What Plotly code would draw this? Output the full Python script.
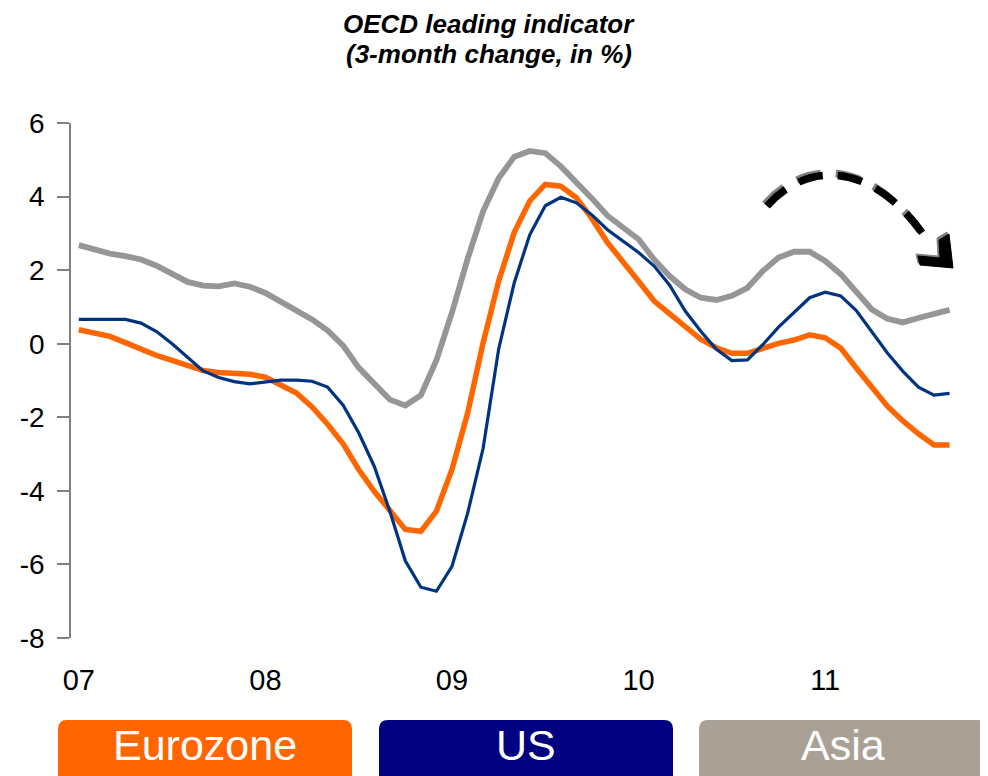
import plotly.graph_objects as go

# ---------------- data ----------------
months = list(range(57))  # Jan 2007 .. Sep 2011, monthly index
year_ticks = [0, 12, 24, 36, 48]
year_labels = ["07", "08", "09", "10", "11"]
year_bounds = [11.5, 23.5, 35.5, 47.5]
y_ticks = [-8, -6, -4, -2, 0, 2, 4, 6]
y_labels = ["-8", "-6", "-4", "-2", "0", "2", "4", "6"]

eurozone = [0.38, 0.28, 0.20, 0.03, -0.15, -0.32, -0.45, -0.59, -0.73, -0.78,
            -0.79, -0.83, -0.91, -1.11, -1.34, -1.72, -2.19, -2.72, -3.42, -4.01,
            -4.55, -5.05, -5.10, -4.55, -3.42, -1.90, 0.02, 1.70, 3.02, 3.88,
            4.33, 4.28, 3.97, 3.40, 2.75, 2.25, 1.70, 1.16, 0.80, 0.44,
            0.12, -0.11, -0.26, -0.26, -0.11, 0.01, 0.10, 0.24, 0.16, -0.12,
            -0.66, -1.20, -1.70, -2.10, -2.45, -2.75, -2.75]
us = [0.66, 0.66, 0.66, 0.66, 0.56, 0.33, 0.00, -0.38, -0.74, -0.92,
      -1.03, -1.09, -1.03, -0.99, -0.99, -1.02, -1.18, -1.67, -2.42, -3.33,
      -4.55, -5.90, -6.62, -6.73, -6.05, -4.62, -2.85, -0.15, 1.65, 2.96,
      3.75, 3.98, 3.83, 3.50, 3.10, 2.79, 2.48, 2.11, 1.59, 0.89,
      0.34, -0.15, -0.46, -0.44, -0.02, 0.45, 0.86, 1.25, 1.40, 1.30,
      0.90, 0.33, -0.25, -0.75, -1.18, -1.40, -1.35]
asia = [2.68, 2.56, 2.45, 2.38, 2.29, 2.12, 1.90, 1.68, 1.58, 1.56,
        1.64, 1.55, 1.38, 1.14, 0.92, 0.66, 0.36, -0.05, -0.65, -1.10,
        -1.52, -1.68, -1.40, -0.45, 0.85, 2.30, 3.60, 4.50, 5.08, 5.24,
        5.18, 4.82, 4.40, 3.95, 3.48, 3.15, 2.84, 2.29, 1.84, 1.48,
        1.25, 1.19, 1.30, 1.52, 1.98, 2.34, 2.50, 2.50, 2.25, 1.89,
        1.40, 0.93, 0.68, 0.58, 0.70, 0.81, 0.92]

series_names = ["Eurozone", "US", "Asia"]
title_lines = ["OECD leading indicator", "(3-month change, in %)"]
line_colors = {"Eurozone": "#FF6600", "US": "#003380", "Asia": "#969696"}
box_colors = {"Eurozone": "#FF6600", "US": "#000080", "Asia": "#A9A196"}

# ---------------- layout geometry ----------------
# page pixels; the page body has an 8px margin, so the figure starts at (8, 8)
OFF = 8
WIDTH, HEIGHT = 988 - OFF, 776 - OFF
PL, PT = 71, 123           # plot area left/top in page pixels
PW, PH = 917, 515
L, T = PL - OFF, PT - OFF
B = HEIGHT - T - PH
R = WIDTH - L - PW
X_RANGE = [-0.5, -0.5 + PW / 15.55]
Y_RANGE = [-8, 6]
FONT = "Liberation Sans, Arial, sans-serif"


def pp(px, py):
    """page pixel -> paper coordinates"""
    return (px - PL) / PW, (PT + PH - py) / PH


fig = go.Figure()
fig.add_trace(go.Scatter(x=months, y=asia, mode="lines", name="Asia",
                         line=dict(color=line_colors["Asia"], width=5.8)))
fig.add_trace(go.Scatter(x=months, y=eurozone, mode="lines", name="Eurozone",
                         line=dict(color=line_colors["Eurozone"], width=5.5)))
fig.add_trace(go.Scatter(x=months, y=us, mode="lines", name="US",
                         line=dict(color=line_colors["US"], width=3.2)))

zero_pos = (0 - Y_RANGE[0]) / (Y_RANGE[1] - Y_RANGE[0])

fig.update_layout(
    width=WIDTH, height=HEIGHT,
    margin=dict(l=L, r=R, t=T, b=B),
    paper_bgcolor="white", plot_bgcolor="white",
    showlegend=False,
    font=dict(family=FONT, color="black"),
    xaxis=dict(range=X_RANGE, tickvals=year_ticks, ticktext=year_labels,
               showgrid=False, zeroline=False, showline=False,
               ticks="outside", ticklen=16, tickcolor="rgba(0,0,0,0)",
               tickfont=dict(size=29, family=FONT, color="black")),
    xaxis2=dict(range=X_RANGE, overlaying="x", anchor="free", position=zero_pos,
                tickvals=year_bounds, showticklabels=False, showgrid=False,
                zeroline=False, showline=True, linecolor="#808080", linewidth=2,
                ticks="outside", ticklen=8, tickwidth=1.5, tickcolor="#333333"),
    yaxis=dict(range=Y_RANGE, tickvals=y_ticks, ticktext=y_labels,
               showgrid=False, zeroline=False,
               showline=True, linecolor="#808080", linewidth=1.5,
               ticks="outside", ticklen=12, tickwidth=1.5, tickcolor="#808080",
               ticklabelstandoff=7,
               tickfont=dict(size=28, family=FONT, color="black")),
)

# ---------------- title (two lines) ----------------
for line_text, ly in zip(title_lines, [24, 54]):
    tx, ty = pp(489, ly)
    fig.add_annotation(text=f"<b><i>{line_text}</i></b>",
                       xref="paper", yref="paper", x=tx, y=ty, xanchor="center",
                       yanchor="middle", showarrow=False,
                       font=dict(size=26, family=FONT, color="black"))

# ---------------- legend boxes (rounded rectangles) ----------------
boxes = [("Eurozone", 58, 352), ("US", 379, 673), ("Asia", 699, 986)]
top, bot, rad = 720, 790, 9
for name, x0, x1 in boxes:
    def P(px, py):
        a, b = pp(px, py)
        return f"{a:.5f},{b:.5f}"
    path = (f"M {P(x0 + rad, top)} L {P(x1 - rad, top)} Q {P(x1, top)} {P(x1, top + rad)} "
            f"L {P(x1, bot - rad)} Q {P(x1, bot)} {P(x1 - rad, bot)} "
            f"L {P(x0 + rad, bot)} Q {P(x0, bot)} {P(x0, bot - rad)} "
            f"L {P(x0, top + rad)} Q {P(x0, top)} {P(x0 + rad, top)} Z")
    fig.add_shape(type="path", path=path, xref="paper", yref="paper",
                  fillcolor=box_colors[name], line=dict(width=0), layer="above")
    cx, cy = pp((x0 + x1) / 2, 745)
    fig.add_annotation(text=name, xref="paper", yref="paper", x=cx, y=cy,
                       xanchor="center", yanchor="middle", showarrow=False,
                       font=dict(size=43, family=FONT, color="white"))

# ---------------- dashed curved arrow ----------------
def curve(dx, dy):
    p = [(767, 206), (808, 160), (875, 160), (930, 244)]
    q = [pp(x + dx, y + dy) for x, y in p]
    return "M {:.5f},{:.5f} C {:.5f},{:.5f} {:.5f},{:.5f} {:.5f},{:.5f}".format(
        *q[0], *q[1], *q[2], *q[3])


def head(dx, dy):
    p = [(939, 240), (949, 234), (953, 268), (920, 265), (918, 256), (940, 258)]
    q = [pp(x + dx, y + dy) for x, y in p]
    return "M " + " L ".join(f"{a:.5f},{b:.5f}" for a, b in q) + " Z"


for (dx, dy, col) in [(-2, -2, "#808080"), (0, 0, "black")]:
    fig.add_shape(type="path", path=curve(dx, dy), xref="paper", yref="paper",
                  line=dict(color=col, width=7.5, dash="25px,15px"), layer="above")
    fig.add_shape(type="path", path=head(dx, dy), xref="paper", yref="paper",
                  fillcolor=col, line=dict(color=col, width=1), layer="above")

fig.write_html("out.html")
